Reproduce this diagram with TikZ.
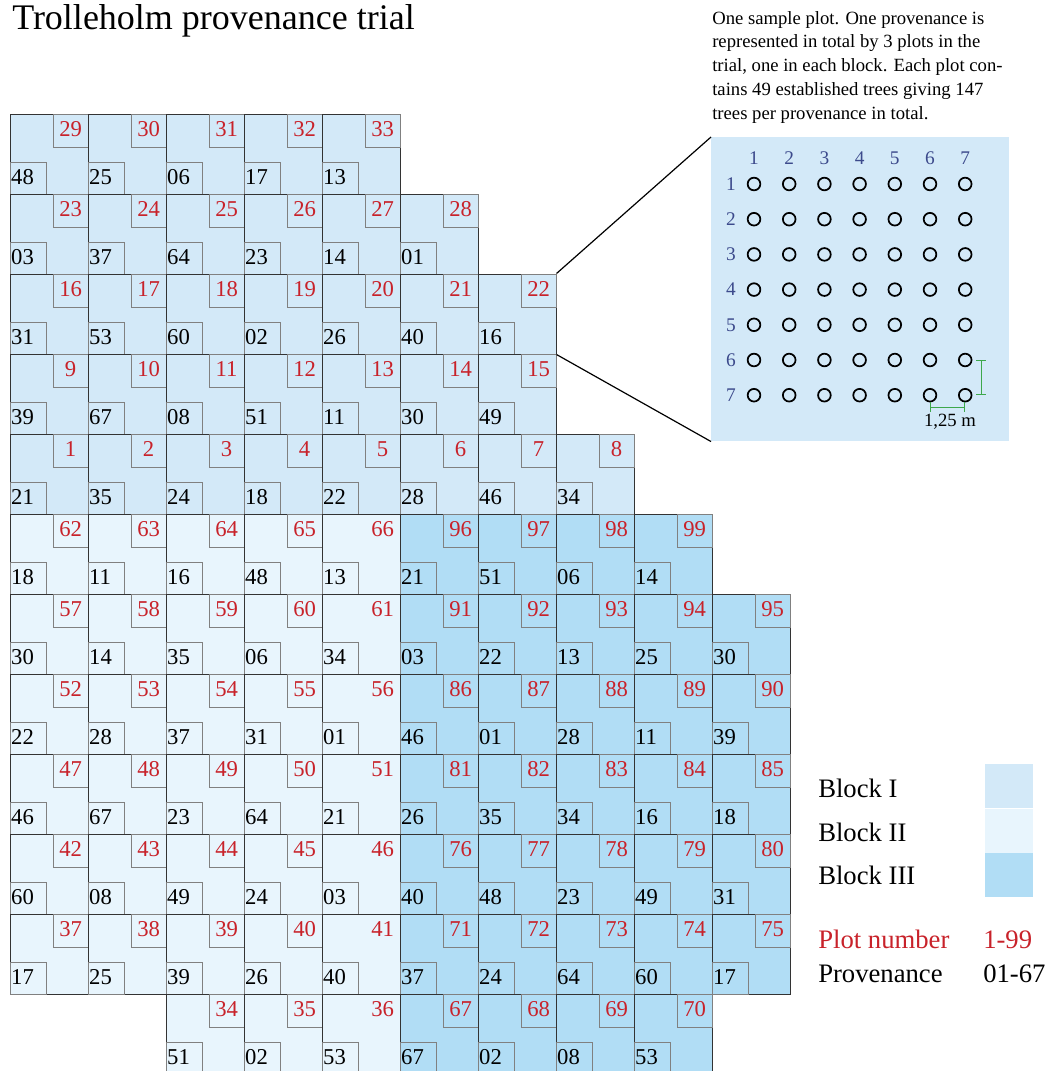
\documentclass[tikz,border=0pt]{standalone}
\usepackage{fontspec}
\setmainfont{Liberation Serif}
\usetikzlibrary{arrows, positioning}

\definecolor{blockone}{RGB}{211,233,248}
\definecolor{blocktwo}{RGB}{232,245,253}
\definecolor{blockthree}{RGB}{177,221,245}
\definecolor{plotred}{RGB}{200,34,42}
\definecolor{rowblue}{RGB}{60,74,140}
\definecolor{scalegreen}{RGB}{62,168,76}

\tikzset{
	plotcell/.style={draw=black!80, line width=0.75pt, minimum width=58.5pt, minimum height=60pt, inner sep=0},
	smallbox/.style={draw=black!50, line width=0.6pt},
	nobox/.style={},
	plotno/.style={text=plotred, font=\fontsize{17}{17}\selectfont, minimum width=26.25pt, minimum height=24.75pt, inner sep=0, text depth=.2em, anchor=north east},
	provno/.style={font=\fontsize{17}{17}\selectfont, text width=25pt, align=left, inner xsep=1pt, inner ysep=0, minimum height=24pt, text depth=.2em, anchor=south west},
	tree/.style={draw, circle, line width=1.3pt, minimum size=9.5pt, inner sep=0},
	treeno/.style={text=rowblue, font=\fontsize{14.5}{14.5}\selectfont, inner sep=0},
	legendtext/.style={font=\fontsize{20}{20}\selectfont, anchor=base west, inner sep=0},
	swatch/.style={minimum width=36pt, minimum height=33pt, inner sep=0, anchor=north west}
}

\begin{document}
\begin{tikzpicture}[x=0.75pt, y=-0.75pt]
	     \useasboundingbox (0,0) rectangle (1057,1071);

	     % title and note %
		 \node[anchor=base west, inner sep=0, font=\fontsize{27}{27}\selectfont] (title) at (12,29) {Trolleholm provenance trial};
		 \node[anchor=north west, inner sep=0, align=left, font=\fontsize{14}{17.8}\selectfont] (note) at (712,11)
		 {One sample plot. One provenance is\\ represented in total by 3 plots in the\\ trial, one in each block. Each plot con-\\ tains 49 established trees giving 147\\ trees per provenance in total.};

		 % plots: row/col/fill/box/{plot/provenance,...} %
		 \foreach \row/\col/\blk/\bx/\cells in {
		 	0/0/blockone/smallbox/{29/48,30/25,31/06,32/17,33/13},
		 	1/0/blockone/smallbox/{23/03,24/37,25/64,26/23,27/14,28/01},
		 	2/0/blockone/smallbox/{16/31,17/53,18/60,19/02,20/26,21/40,22/16},
		 	3/0/blockone/smallbox/{9/39,10/67,11/08,12/51,13/11,14/30,15/49},
		 	4/0/blockone/smallbox/{1/21,2/35,3/24,4/18,5/22,6/28,7/46,8/34},
		 	5/0/blocktwo/smallbox/{62/18,63/11,64/16,65/48}, 5/4/blocktwo/nobox/{66/13},
		 	5/5/blockthree/smallbox/{96/21,97/51,98/06,99/14},
		 	6/0/blocktwo/smallbox/{57/30,58/14,59/35,60/06}, 6/4/blocktwo/nobox/{61/34},
		 	6/5/blockthree/smallbox/{91/03,92/22,93/13,94/25,95/30},
		 	7/0/blocktwo/smallbox/{52/22,53/28,54/37,55/31}, 7/4/blocktwo/nobox/{56/01},
		 	7/5/blockthree/smallbox/{86/46,87/01,88/28,89/11,90/39},
		 	8/0/blocktwo/smallbox/{47/46,48/67,49/23,50/64}, 8/4/blocktwo/nobox/{51/21},
		 	8/5/blockthree/smallbox/{81/26,82/35,83/34,84/16,85/18},
		 	9/0/blocktwo/smallbox/{42/60,43/08,44/49,45/24}, 9/4/blocktwo/nobox/{46/03},
		 	9/5/blockthree/smallbox/{76/40,77/48,78/23,79/49,80/31},
		 	10/0/blocktwo/smallbox/{37/17,38/25,39/39,40/26}, 10/4/blocktwo/nobox/{41/40},
		 	10/5/blockthree/smallbox/{71/37,72/24,73/64,74/60,75/17},
		 	11/2/blocktwo/smallbox/{34/51,35/02}, 11/4/blocktwo/nobox/{36/53},
		 	11/5/blockthree/smallbox/{67/67,68/02,69/08,70/53}}
		 {
		 	\foreach \pnr/\prov [count=\i from 0] in \cells {
		 		\node[plotcell, fill=\blk] (p\pnr) at ({49+78*(\col+\i)}, {154+80*\row}) {};
		 		\node[plotno, \bx] (n\pnr) at (p\pnr.north east) {\pnr};
		 		\node[provno, smallbox] (v\pnr) at (p\pnr.south west) {\prov};
		 	}
		 }

		 % sample plot %
		 \node[fill=blockone, minimum width=223.5pt, minimum height=228pt, inner sep=0, anchor=north west] (sample) at (711,137) {};
		 \foreach \i in {1,...,7} {
		 	\node[treeno] (c\i) at ({754+35.2*(\i-1)}, 158) {\i};
		 	\node[treeno] (r\i) at (731, {184+35.2*(\i-1)}) {\i};
		 	\foreach \j in {1,...,7}
		 		\node[tree] (t\i\j) at ({754+35.2*(\j-1)}, {184+35.2*(\i-1)}) {};
		 }
		 \draw[|-|, scalegreen, line width=0.8pt] ([xshift=12pt]t67.center) -- ([xshift=12pt]t77.center);
		 \draw[|-|, scalegreen, line width=0.8pt] ([yshift=-9pt]t76.center) -- ([yshift=-9pt]t77.center);
		 \node[inner sep=0, font=\fontsize{14}{14}\selectfont] (dist) at (950,422) {1,25 m};

		 % edges %
		 \draw[line width=0.9pt] (p22.north east) -- (sample.north west);
		 \draw[line width=0.9pt] (p22.south east) -- (sample.south west);

		 % legend %
		 \node[swatch, fill=blockone] (legone) at (985,764) {};
		 \node[swatch, fill=blocktwo, below=0pt of legone] (legtwo) {};
		 \node[swatch, fill=blockthree, below=0pt of legtwo] (legthree) {};
		 \node[legendtext] (bone) at (818,797) {Block I};
		 \node[legendtext] (btwo) at (818,841) {Block II};
		 \node[legendtext] (bthree) at (818,884) {Block III};
		 \node[legendtext, text=plotred] (plotlab) at (818,948) {Plot number};
		 \node[legendtext, text=plotred] (plotrange) at (983,948) {1-99};
		 \node[legendtext] (provlab) at (818,982) {Provenance};
		 \node[legendtext] (provrange) at (983,982) {01-67};
	     \end{tikzpicture}
\end{document}
